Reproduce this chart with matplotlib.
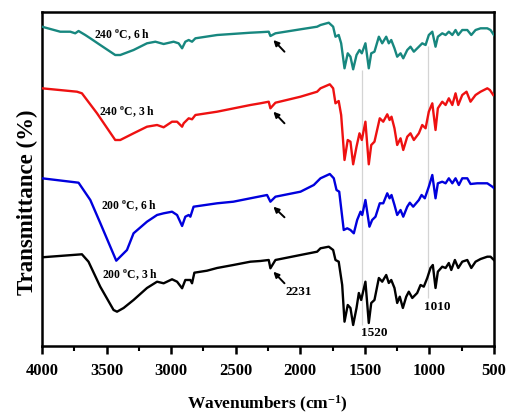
import matplotlib
matplotlib.use("Agg")
import matplotlib.pyplot as plt
from matplotlib.ticker import MultipleLocator

plt.rcParams['font.family'] = ['Liberation Serif', 'DejaVu Serif']
plt.rcParams['font.weight'] = 'bold'
plt.rcParams['mathtext.fontset'] = 'custom'
plt.rcParams['mathtext.rm'] = 'Liberation Serif:bold'
plt.rcParams['mathtext.bf'] = 'Liberation Serif:bold'
plt.rcParams['mathtext.it'] = 'Liberation Serif:italic:bold'

# ---- data (wavenumber in cm^-1, transmittance in arbitrary offset units) ----
wn_200_3h = [4000, 3691, 3640, 3549, 3446, 3419, 3368, 3291, 3187, 3109, 3058, 2993, 2954, 2915,
             2890, 2851, 2838, 2820, 2722, 2644, 2518, 2386, 2309, 2244, 2231, 2192, 1998, 1869,
             1843, 1779, 1745, 1727, 1702, 1675, 1657, 1632, 1611, 1590, 1564, 1546, 1528, 1495,
             1469, 1450, 1425, 1391, 1365, 1334, 1314, 1295, 1270, 1249, 1229, 1205, 1179, 1159,
             1132, 1094, 1068, 1043, 1016, 991, 973, 952, 934, 900, 874, 849, 830, 802, 776, 745,
             706, 675, 642, 603, 551, 526, 500]
tr_200_3h = [88.7, 91.7, 84.3, 59.3, 36, 34.3, 38, 46, 58, 64.3, 62.7, 66.7, 64.3, 57.7,
             66, 66, 62.7, 73.3, 75.3, 78, 81, 84.3, 85, 86, 77.7, 86, 91, 94.3,
             97.7, 99.3, 96, 86, 84.3, 61, 24.3, 41, 38, 21, 38, 53, 46, 64.3,
             23, 43, 46, 68, 64.3, 71, 63, 66, 58, 43, 49.3, 38, 49.3, 54.3,
             48, 53, 61, 59.3, 68, 78, 81, 58, 74.3, 79.3, 78, 83, 76, 86, 78, 84.3,
             86, 78, 84.3, 87, 89.3, 89.3, 86]

wn_200_6h = [4000, 3717, 3626, 3549, 3425, 3342, 3291, 3187, 3109, 3058, 2993, 2954, 2915, 2890,
             2864, 2851, 2826, 2644, 2518, 2386, 2257, 2231, 2192, 1998, 1895, 1843, 1771, 1740,
             1719, 1698, 1663, 1636, 1611, 1585, 1559, 1533, 1520, 1495, 1464, 1443, 1417, 1384,
             1357, 1326, 1308, 1293, 1270, 1249, 1223, 1202, 1171, 1151, 1125, 1081, 1060, 1035,
             1004, 977, 952, 934, 900, 874, 849, 822, 797, 771, 745, 706, 681, 629, 551, 512, 500]
tr_200_6h = [167.7, 163.3, 146, 123, 85.3, 96, 112.7, 124.3, 131, 132.7, 134.3, 131, 120, 129.3,
             131, 129.3, 139.3, 142.7, 144.3, 147.7, 151, 144.3, 149.3, 154.3, 161, 167.7, 172, 167.7,
             156, 154.3, 116, 117.7, 116, 112.7, 126, 134.3, 131, 146, 119.3, 126, 129.3, 142.7,
             142.7, 152.7, 147.7, 151, 141, 131, 136, 129.3, 139.3, 143.3, 139.3, 146, 151, 147.7,
             159.3, 171, 147.7, 162.7, 164.3, 162.7, 167.7, 162.7, 167.7, 161, 167.7, 167.7, 162, 162.7, 162.7, 159.3, 158]

wn_240_3h = [4000, 3729, 3691, 3574, 3433, 3394, 3291, 3187, 3109, 3058, 2993, 2954, 2915, 2903,
             2864, 2838, 2812, 2644, 2386, 2309, 2244, 2231, 2192, 1998, 1869, 1843, 1771, 1745,
             1727, 1702, 1683, 1657, 1632, 1611, 1590, 1564, 1541, 1523, 1495, 1469, 1450, 1425,
             1384, 1357, 1326, 1308, 1293, 1270, 1249, 1223, 1202, 1171, 1146, 1120, 1081, 1055,
             1029, 1004, 977, 952, 934, 900, 874, 849, 822, 797, 776, 745, 712, 681, 642, 603,
             551, 531, 505]
tr_240_3h = [257.7, 254.3, 252.7, 232.7, 206, 206, 212.7, 219.3, 221, 218.7, 224.3, 224.3, 219.3, 222.7,
             227.7, 226.7, 231, 234.3, 241, 242.7, 244.3, 237.7, 243.3, 249.3, 254.3, 257.7, 261.7, 257.7,
             242.7, 245, 231, 186, 206, 204.3, 181.7, 199.3, 212.7, 206, 224.3, 181.7, 201, 204.3,
             227.7, 224.3, 231.7, 226, 229.3, 217.7, 201, 207.7, 196, 209.3, 212.7, 206, 212.7, 221,
             217.7, 234.3, 242.7, 216, 237.7, 244.3, 241, 247.7, 241, 252.7, 241, 251, 254.3, 244.3, 251, 254.3,
             257.7, 256, 251]

wn_240_6h = [4000, 3859, 3781, 3743, 3717, 3665, 3626, 3549, 3433, 3394, 3291, 3187, 3122, 3058,
             2981, 2942, 2915, 2890, 2864, 2838, 2812, 2644, 2386, 2309, 2244, 2231, 2192, 1998,
             1869, 1843, 1779, 1745, 1727, 1702, 1683, 1657, 1632, 1611, 1590, 1564, 1541, 1523,
             1495, 1469, 1450, 1425, 1391, 1365, 1334, 1314, 1295, 1270, 1249, 1223, 1202, 1171,
             1146, 1120, 1081, 1055, 1029, 1004, 977, 952, 934, 900, 874, 849, 822, 797, 776, 745,
             706, 675, 642, 603, 551, 526, 500]
tr_240_6h = [319.3, 314.3, 314.3, 312.7, 315, 311, 307.7, 301, 291, 291, 296, 302.7, 304.3, 302,
             304.3, 302.7, 297.7, 304.3, 306, 304.3, 307.7, 311, 313.3, 313.8, 314.3, 310, 312.7, 316.7,
             319.3, 321, 323.3, 319.3, 309.3, 311, 302.7, 277.7, 292.7, 289.3, 276.7, 291, 296, 292.7,
             302.7, 277.7, 292.7, 294.3, 309.3, 302.7, 309.3, 302.7, 306, 297.7, 289.3, 292.7, 287.7, 296,
             299.3, 294.3, 299.3, 302.7, 301, 311, 314.3, 299.3, 309.3, 312.7, 311, 314.3, 311, 316, 311, 316,
             316, 311, 316, 317.7, 317.7, 316, 311]

series_labels = ["200 $^{\\mathbf{o}}$C, 3 h", "200 $^{\\mathbf{o}}$C, 6 h",
                 "240 $^{\\mathbf{o}}$C, 3 h", "240 $^{\\mathbf{o}}$C, 6 h"]
series_colors = ["#000000", "#0000dd", "#ee1111", "#17877f"]
label_pos_wn = [3533, 3541, 3557, 3595]
label_pos_tr = [71, 140, 234, 311]

arrow_head_tr = [74.3, 139.3, 234.3, 306]
arrow_tail_tr = [62.7, 128.7, 222.7, 294.3]
arrow_head_wn = 2208
arrow_tail_wn = 2122

ref_lines_wn = [1520, 1010]
ref_lines_lo = [21, 48]
ref_lines_hi = [276, 300]

peak_labels = ["2231", "1520", "1010"]
peak_label_wn = [2115, 1526, 1045]
peak_label_tr = [54, 13, 39]

# ---- figure ----
fig = plt.figure(figsize=(5.10, 4.17), dpi=100)
ax = fig.add_axes([0.0824, 0.1703, 0.886, 0.8009])

for wl, lo, hi in zip(ref_lines_wn, ref_lines_lo, ref_lines_hi):
    ax.vlines(wl, lo, hi, colors="#d4d4d4", linewidth=0.9, zorder=1)

all_wn = [wn_200_3h, wn_200_6h, wn_240_3h, wn_240_6h]
all_tr = [tr_200_3h, tr_200_6h, tr_240_3h, tr_240_6h]
for wn, tr, c in zip(all_wn, all_tr, series_colors):
    ax.plot(wn, tr, color=c, linewidth=1.7, zorder=3)

for lab, xw, yt in zip(series_labels, label_pos_wn, label_pos_tr):
    ax.text(xw, yt, lab, fontsize=8.4, fontweight='bold', ha='left', va='center', zorder=4)

for h, t in zip(arrow_head_tr, arrow_tail_tr):
    ax.annotate("", xy=(arrow_head_wn, h), xytext=(arrow_tail_wn, t),
                arrowprops=dict(arrowstyle='-|>', color='black', lw=1.4, mutation_scale=8,
                                shrinkA=0, shrinkB=0), zorder=5)

for lab, xw, yt in zip(peak_labels, peak_label_wn, peak_label_tr):
    ax.text(xw, yt, lab, fontsize=9.5, fontweight='bold', ha='left', va='center')

ax.set_xlim(4000, 500)
ax.set_ylim(0, 334)
ax.xaxis.set_major_locator(MultipleLocator(500))
ax.xaxis.set_minor_locator(MultipleLocator(250))
ax.set_yticks([])
ax.tick_params(axis='x', which='major', direction='out', length=6, width=1.8,
               labelsize=12, pad=6)
ax.tick_params(axis='x', which='minor', direction='out', length=3.5, width=1.5)
for lab in ax.get_xticklabels():
    lab.set_fontweight('bold')
for s in ax.spines.values():
    s.set_linewidth(1.8)

fig.text(0.525, 0.03, "Wavenumbers (cm$^{\\mathbf{-1}}$)", fontsize=12.5, fontweight='bold',
         ha='center', va='center')
fig.text(0.053, 0.515, "Transmittance (%)", fontsize=16.5, fontweight='bold',
         ha='center', va='center', rotation=90)

fig.savefig("out.png", dpi=100)
